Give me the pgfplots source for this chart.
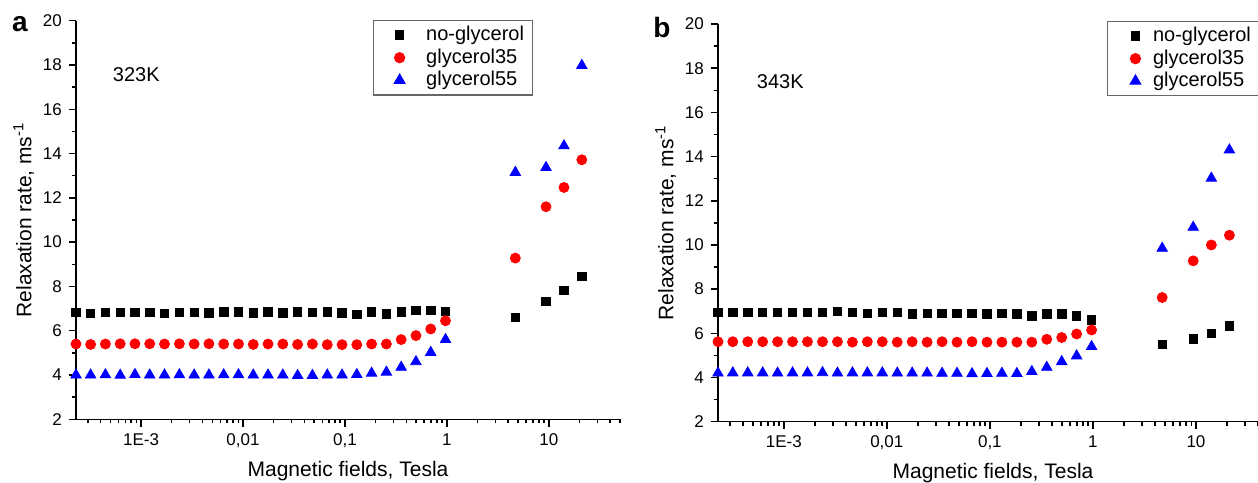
\documentclass[border=0pt]{standalone}
\usepackage{fontspec}
\setmainfont{Liberation Sans}
\usepackage{pgfplots}
\usepackage{pgfplotstable}
\pgfplotsset{compat=1.18}
\pgfkeys{/pgf/number format/assume math mode=true}

% columns: field (T), no-glycerol, glycerol35, glycerol55
\pgfplotstableread{
x        n     g35    g55
2.30e-4  6.82  5.40   4.00
3.20e-4  6.78  5.38   4.00
4.47e-4  6.82  5.40   4.01
6.24e-4  6.82  5.41   3.99
8.71e-4  6.82  5.41   4.02
1.216e-3 6.82  5.41   4.00
1.698e-3 6.78  5.40   4.00
2.377e-3 6.82  5.41   4.01
3.319e-3 6.82  5.40   4.00
4.634e-3 6.81  5.41   4.00
6.471e-3 6.85  5.40   4.01
9.036e-3 6.85  5.40   4.01
0.01262  6.81  5.38   4.00
0.01762  6.85  5.40   4.00
0.02460  6.81  5.40   4.00
0.03436  6.85  5.38   3.98
0.04797  6.82  5.40   3.98
0.06714  6.85  5.37   4.00
0.09376  6.81  5.37   4.00
0.1309   6.73  5.37   4.02
0.1828   6.85  5.40   4.08
0.2553   6.76  5.40   4.13
0.3565   6.85  5.60   4.35
0.4977   6.91  5.78   4.60
0.6950   6.91  6.08   5.02
0.9705   6.88  6.45   5.60
4.7      6.60  9.28   13.15
9.4      7.32  11.60  13.37
14.1     7.82  12.47  14.35
21.1     8.46  13.72  17.98
}\tblA

\pgfplotstableread{
x        n     g35    g55
2.30e-4  6.95  5.62   4.20
3.20e-4  6.95  5.62   4.21
4.47e-4  6.95  5.62   4.21
6.24e-4  6.95  5.62   4.21
8.71e-4  6.95  5.62   4.20
1.216e-3 6.95  5.62   4.21
1.698e-3 6.95  5.62   4.21
2.377e-3 6.95  5.62   4.22
3.319e-3 6.98  5.62   4.20
4.634e-3 6.94  5.60   4.21
6.471e-3 6.91  5.62   4.21
9.036e-3 6.94  5.62   4.21
0.01262  6.94  5.60   4.20
0.01762  6.88  5.62   4.20
0.02460  6.91  5.60   4.20
0.03436  6.91  5.62   4.19
0.04797  6.91  5.60   4.19
0.06714  6.91  5.62   4.17
0.09376  6.88  5.60   4.18
0.1309   6.91  5.60   4.19
0.1828   6.88  5.60   4.18
0.2553   6.79  5.60   4.27
0.3565   6.88  5.73   4.46
0.4977   6.88  5.81   4.72
0.6950   6.79  5.97   4.98
0.9705   6.61  6.15   5.40
4.7      5.51  7.62   9.85
9.4      5.75  9.28   10.80
14.1     5.99  10.00  13.02
21.1     6.33  10.44  14.30
}\tblB

\pgfplotsset{every axis/.append style={
    scale only axis,
    ymin=2, ymax=20,
    axis x line*=bottom, axis y line*=left,
    axis line style={-, line width=0.75pt},
    tick style={black, line width=0.75pt},
    tick align=outside,
    major tick length=3.6pt, minor tick length=2pt,
    ytick={2,4,...,20},
    minor y tick num=1,
    tick label style={font=\fontsize{8.5}{10}\selectfont},
    label style={font=\fontsize{10.5}{12}\selectfont},
    ylabel shift=-2.5pt,
    clip=false,
    legend cell align=left,
  }}
% marker sits well inside the legend box, as in the original
\pgfplotsset{spacedlegend/.style={legend image code/.code={
    \path[draw=none, fill=none] (0pt,-2pt) (22pt,2pt);
    \draw[mark repeat=2, mark phase=2, ##1]
      plot coordinates {(0pt,0pt) (12pt,0pt) (22pt,0pt)};}}}
\pgfplotsset{spacedlegendb/.style={legend image code/.code={
    \path[draw=none, fill=none] (0pt,-2pt) (18.5pt,2pt);
    \draw[mark repeat=2, mark phase=2, ##1]
      plot coordinates {(0pt,0pt) (13pt,0pt) (18.5pt,0pt)};}}}

\begin{document}
\begin{tikzpicture}
% panel a
\begin{axis}[at={(38pt,31.35pt)}, anchor=south west,
  width=272pt, height=199.3pt,
  xmode=log, xmin=2.3e-4, xmax=50,
  xtick={1e-3,1e-2,1e-1,1,10},
  xticklabels={1E-3,{0,01},{0,1},1,10},
  minor xtick={3e-4,4e-4,5e-4,6e-4,7e-4,8e-4,9e-4,2e-3,3e-3,4e-3,5e-3,6e-3,7e-3,8e-3,9e-3,0.02,0.03,0.04,0.05,0.06,0.07,0.08,0.09,0.2,0.3,0.4,0.5,0.6,0.7,0.8,0.9,2,3,4,5,6,7,8,9,20,30,40,50},
  xlabel={Magnetic fields, Tesla},
  ylabel={Relaxation rate, ms\textsuperscript{-1}},
  legend style={at={(rel axis cs:0.546,1.002)}, anchor=north west,
    draw=gray!80!black, line width=0.6pt, fill=white,
    font=\fontsize{10}{12}\selectfont, inner xsep=1pt, inner ysep=2.5pt,
    row sep=1.5pt, nodes={inner ysep=0.5pt, inner xsep=3.3pt}}]
\addplot[only marks, mark=square*, black, mark size=2.1pt, spacedlegend] table[x=x, y=n] {\tblA};
\addplot[only marks, mark=*, red, mark size=2.5pt, spacedlegend] table[x=x, y=g35] {\tblA};
\addplot[only marks, mark=triangle*, blue, mark size=3pt, spacedlegend] table[x=x, y=g55] {\tblA};
\legend{no-glycerol, glycerol35, glycerol55}
\node[anchor=west, font=\fontsize{10}{12}\selectfont] at (rel axis cs:0.055,0.865) {323K};
\node[anchor=base, font=\fontsize{14}{16}\selectfont\bfseries] at (rel axis cs:-0.103,0.972) {a};
\end{axis}
% panel b
\begin{axis}[at={(359pt,30.15pt)}, anchor=south west,
  width=275pt, height=198.85pt,
  xmode=log, xmin=2.3e-4, xmax=50,
  xtick={1e-3,1e-2,1e-1,1,10},
  xticklabels={1E-3,{0,01},{0,1},1,10},
  minor xtick={3e-4,4e-4,5e-4,6e-4,7e-4,8e-4,9e-4,2e-3,3e-3,4e-3,5e-3,6e-3,7e-3,8e-3,9e-3,0.02,0.03,0.04,0.05,0.06,0.07,0.08,0.09,0.2,0.3,0.4,0.5,0.6,0.7,0.8,0.9,2,3,4,5,6,7,8,9,20,30,40,50},
  xlabel={Magnetic fields, Tesla},
  ylabel={Relaxation rate, ms\textsuperscript{-1}},
  legend style={at={(rel axis cs:0.707,1.008)}, anchor=north west,
    draw=gray!80!black, line width=0.6pt, fill=white,
    font=\fontsize{10}{12}\selectfont, inner xsep=1pt, inner ysep=2.5pt,
    row sep=1.5pt, nodes={inner ysep=0.5pt, inner xsep=3.3pt}}]
\addplot[only marks, mark=square*, black, mark size=2.1pt, spacedlegendb] table[x=x, y=n] {\tblB};
\addplot[only marks, mark=*, red, mark size=2.5pt, spacedlegendb] table[x=x, y=g35] {\tblB};
\addplot[only marks, mark=triangle*, blue, mark size=3pt, spacedlegendb] table[x=x, y=g55] {\tblB};
\legend{no-glycerol, glycerol35, glycerol55}
\node[anchor=west, font=\fontsize{10}{12}\selectfont] at (rel axis cs:0.058,0.856) {343K};
\node[anchor=base, font=\fontsize{14}{16}\selectfont\bfseries] at (rel axis cs:-0.102,0.967) {b};
\end{axis}
\pgfresetboundingbox
\useasboundingbox (0pt,0pt) rectangle (629pt,241pt);
\end{tikzpicture}
\end{document}
